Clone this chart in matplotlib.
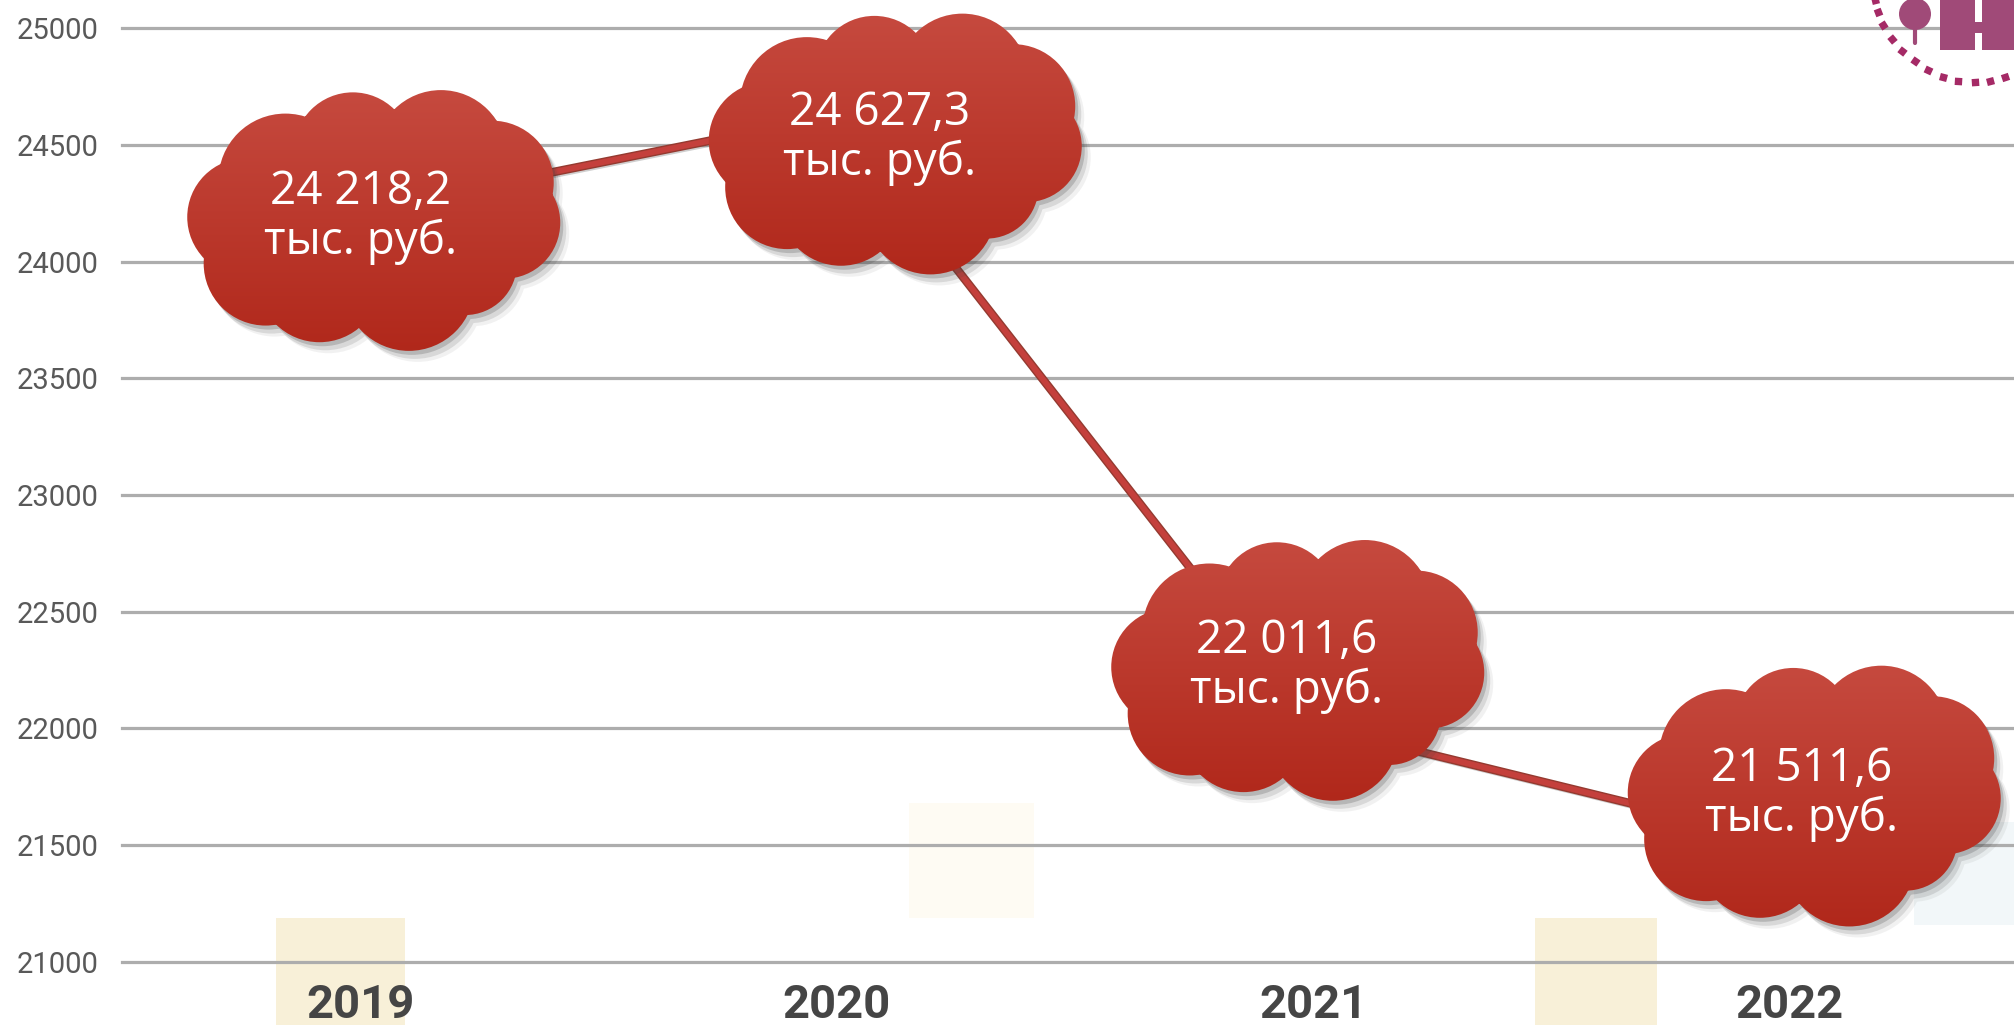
import numpy as np
import matplotlib
matplotlib.use('Agg')
import matplotlib.pyplot as plt
from matplotlib.path import Path
from matplotlib.patches import PathPatch, Rectangle, Circle
from matplotlib.colors import LinearSegmentedColormap
import matplotlib.patheffects as pe

# data
years = ['2019', '2020', '2021', '2022']
values = [24218.2, 24627.3, 22011.6, 21511.6]
yticks = [21000, 21500, 22000, 22500, 23000, 23500, 24000, 24500, 25000]
unit = 'тыс. руб.'

# label placement (pixels, y up) relative to each point
cloud_off = [(14, -12), (59, -31), (-15, 53), (25, 44)]
text_off = [(0, -6), (43, -23), (-27, 60), (12, 48)]

W, H = 2014, 1025
fig = plt.figure(figsize=(W / 100, H / 100), dpi=100)
fig.patch.set_facecolor('white')

# faint blocks of the pasted background picture
bg = fig.add_axes([0, 0, 1, 1], zorder=0)
bg.set_xlim(0, W)
bg.set_ylim(H, 0)
bg.axis('off')
for x0, y0, x1, y1, c in [(276, 918, 405, 1025, '#f8f0d8'),
                          (909, 803, 1034, 918, '#fefbf3'),
                          (1535, 918, 1657, 1025, '#f8f0d8'),
                          (1914, 822, 2014, 925, '#f2f7f9')]:
    bg.add_patch(Rectangle((x0, y0), x1 - x0, y1 - y0, facecolor=c, edgecolor='none'))

# main chart
ax = fig.add_axes([122 / W, 1 - 961.7 / H, (2028 - 122) / W, (961.7 - 28.3) / H], zorder=1)
ax.patch.set_alpha(0)
x = np.arange(len(years))
ax.set_xlim(-0.5, len(years) - 0.5)
ax.set_ylim(yticks[0], yticks[-1])
ax.set_yticks(yticks)
ax.set_xticks(x, years)
for s in ax.spines.values():
    s.set_visible(False)
ax.grid(axis='y', color='#adadad', lw=2.3)
ax.set_axisbelow(True)
for gl in ax.get_ygridlines():
    gl.set_clip_on(False)
ax.tick_params(axis='y', length=0, pad=17, labelsize=21, labelcolor='#595959')
ax.tick_params(axis='x', length=0, pad=15, labelsize=34, labelcolor='#454545')
for t in ax.get_yticklabels():
    t.set_fontfamily('Roboto')
for t in ax.get_xticklabels():
    t.set_fontfamily('Roboto')
    t.set_fontweight('bold')

ax.plot(x, values, color='#c4403c', lw=4.2, zorder=3,
        path_effects=[pe.SimpleLineShadow(offset=(1.5, -2), shadow_color='#777777', alpha=0.35),
                      pe.Stroke(linewidth=6.2, foreground='#943a30'), pe.Normal()])

# cloud shape: circles (dx, dy, r) in pixels around the cloud centre
lobes = [(-97, 46, 58), (-24, 80, 50), (73, 73, 57), (126, 43, 53), (139, 0, 47),
         (99, -44, 43), (39, -70, 57), (-61, -64, 53), (-117, -44, 53), (-137, 6, 50)]
cmap = LinearSegmentedColormap.from_list('cl', ['#c64a3f', '#b0271a'])
grad = np.linspace(0, 1, 256).reshape(-1, 1)
inv = ax.transData.inverted()


def cloud_path(cx, cy, k=9):
    parts = []
    for dx, dy, r in lobes:
        d = np.hypot(dx, dy)
        sx, sy = dx - k * dx / d, dy - k * dy / d
        p = Path.circle((cx + sx, cy + sy), r + k)
        parts.append(Path(inv.transform(p.vertices), p.codes))
    uc = Path.unit_circle()
    parts.append(Path(inv.transform(uc.vertices * [155, 95] + [cx, cy]), uc.codes))
    return Path.make_compound_path(*parts)


for xi, v, (cdx, cdy), (tdx, tdy) in zip(x, values, cloud_off, text_off):
    px, py = ax.transData.transform((xi, v))
    cx, cy = px + cdx, py + cdy
    for ox, oy, a in [(3, -4, 0.22), (6, -8, 0.14), (9, -11, 0.07)]:
        ax.add_patch(PathPatch(cloud_path(cx + ox, cy + oy), facecolor='#404040',
                               edgecolor='none', alpha=a, zorder=4, clip_on=False))
    patch = PathPatch(cloud_path(cx, cy), facecolor='none', edgecolor='none', zorder=5)
    ax.add_patch(patch)
    (x0, y0) = inv.transform((cx - 195, cy - 135))
    (x1, y1) = inv.transform((cx + 195, cy + 135))
    im = ax.imshow(grad, cmap=cmap, extent=[x0, x1, y0, y1], origin='upper',
                   aspect='auto', zorder=5, interpolation='bilinear')
    im.set_clip_path(patch)
    im.set_clip_box(fig.bbox)
    num = f'{v:,.1f}'.replace(',', ' ').replace('.', ',')
    ax.annotate(f'{num}\n{unit}', xy=(xi, v), xytext=(tdx, tdy), textcoords='offset pixels',
                ha='center', va='center', color='white', fontsize=33, family='Open Sans',
                linespacing=1.1, zorder=6)

ax.set_xlim(-0.5, len(years) - 0.5)
ax.set_ylim(yticks[0], yticks[-1])

# logo in the top right corner
fg = fig.add_axes([0, 0, 1, 1], zorder=2)
fg.set_xlim(0, W)
fg.set_ylim(H, 0)
fg.axis('off')
LOGO = '#a04a78'
dots = [(1875, 0), (1878, 12), (1883, 25), (1892, 39), (1902, 51), (1915, 61), (1928, 70),
        (1943, 77), (1958, 81), (1975, 82), (1990, 81), (2005, 77)]
for i, (dx_, dy_) in enumerate(dots):
    if i + 1 < len(dots):
        nx, ny = dots[i + 1]
    else:
        nx, ny = 2020, 72
    ang = np.degrees(np.arctan2(-(ny - dy_), nx - dx_))
    fg.plot(dx_, dy_, marker=(4, 0, ang + 45), ms=7.5, color='#a52a66', mec='none')
fg.add_patch(Circle((1915, 14), 16, facecolor=LOGO, edgecolor='none'))
fg.plot([1915, 1915], [20, 43], color=LOGO, lw=3, solid_capstyle='round')
fg.add_patch(Rectangle((1940, 0), 35, 50, facecolor=LOGO, edgecolor='none'))
fg.add_patch(Rectangle((1982, 0), 40, 50, facecolor=LOGO, edgecolor='none'))
fg.add_patch(Rectangle((1974, 22), 9, 11, facecolor=LOGO, edgecolor='none'))

fig.savefig('out.png', dpi=100, facecolor='white')
